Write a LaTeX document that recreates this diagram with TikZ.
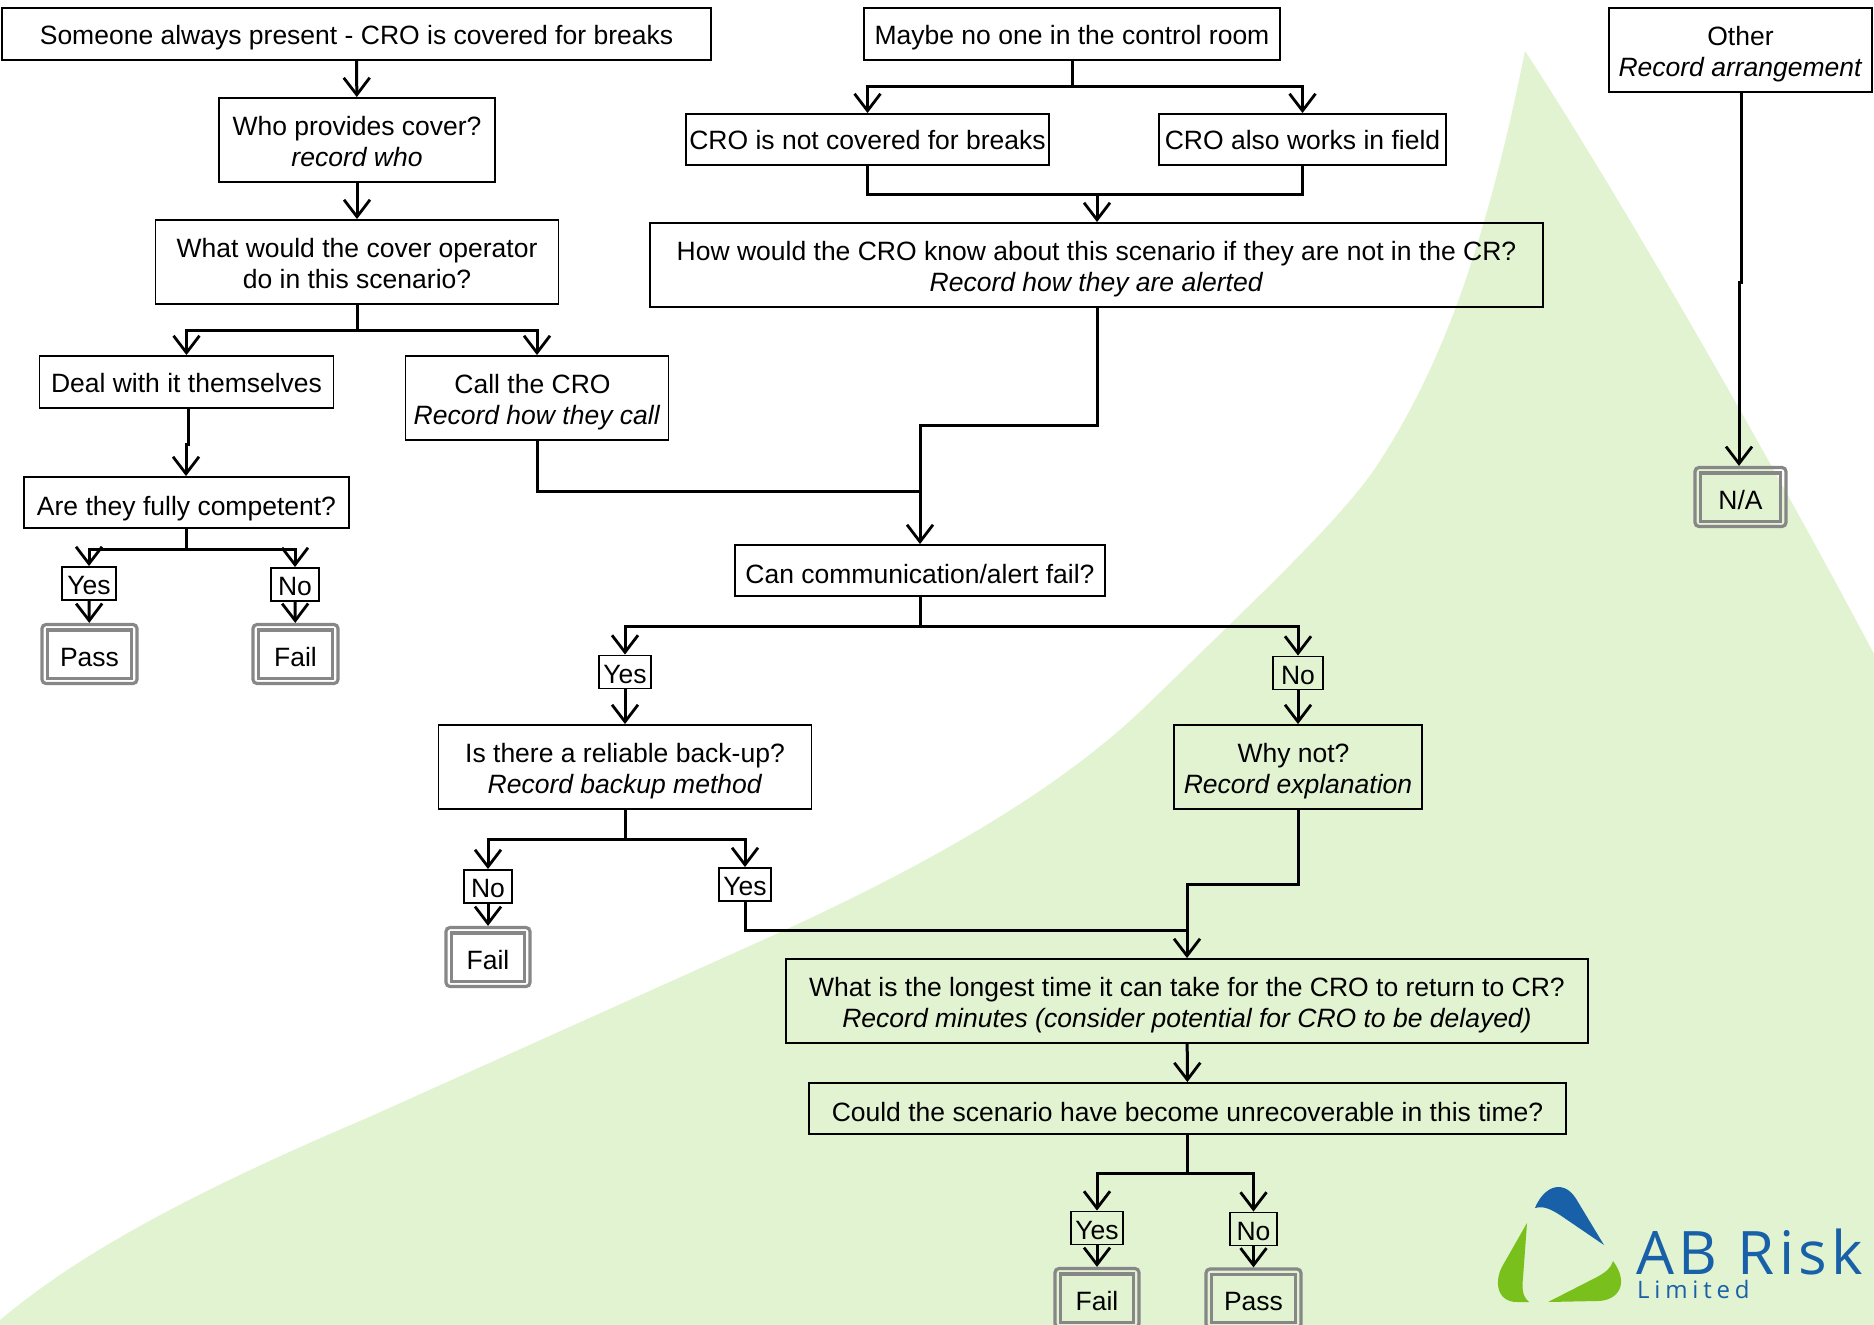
\documentclass[tikz,border=0pt]{standalone}
\usepackage{fontspec}
\setmainfont{Liberation Sans}
\newfontfamily\logofont[LetterSpace=7.5]{Open Sans}
\newfontfamily\logosmall[LetterSpace=20]{Open Sans}
\usetikzlibrary{arrows.meta}
\definecolor{bgGreen}{HTML}{E2F3D2}
\definecolor{logoGreen}{HTML}{7AC01C}
\definecolor{logoBlue}{HTML}{1860A8}
\definecolor{outcomeGray}{HTML}{878787}
\tikzset{
  qbox/.style={draw=black,line width=1.9pt,inner sep=0pt,align=center,text height=26pt,text depth=6pt,font=\fontsize{26.5}{31.5}\selectfont},
  qlow/.style={qbox,text height=31pt},
  twoline/.style={qbox,text height=59pt},
  tagbox/.style={qbox,minimum height=33pt,text height=27pt,text depth=5pt},
  outcome/.style={draw=outcomeGray,line width=3.2pt,rounded corners=4pt,inner sep=0pt,text height=30pt,text depth=6pt,font=\fontsize{26.5}{31.5}\selectfont,minimum height=59pt},
  outcomeInner/.style={draw=outcomeGray,line width=3.2pt},
  link/.style={draw=black,line width=3pt,-{Straight Barb[length=17pt,width=26pt,line width=2.8pt]}},
  plain/.style={draw=black,line width=3pt}
}
\newcommand{\outcomeBox}[4]{
  \node[outcome,minimum width=#3pt] (#1) at #2 {#4};
  \draw[outcomeInner] ([shift={(7pt,7pt)}]#1.south west) rectangle ([shift={(-7pt,-7pt)}]#1.north east);
}
\begin{document}
\begin{tikzpicture}[x=1pt,y=-1pt]
  \useasboundingbox (0,0) rectangle (1874,1325);
  \clip (0,0) rectangle (1874,1325);
  % background
  \fill[bgGreen] (0,1320) .. controls (60,1270) and (150,1210) .. (367,1118) -- (763,940)
    .. controls (900,878) and (1050,800) .. (1149,703)
    .. controls (1260,595) and (1340,520) .. (1376,467)
    .. controls (1440,370) and (1485,250) .. (1525,51)
    .. controls (1600,165) and (1750,420) .. (1874,654) -- (1874,1325) -- (0,1325) -- cycle;
  % logo
  \fill[logoBlue] (1535,1208) .. controls (1541,1193) and (1551,1187) .. (1558,1187)
    .. controls (1567,1187) and (1573,1193) .. (1578,1202) -- (1604,1245)
    -- (1560,1215) .. controls (1549,1208) and (1543,1206) .. (1535,1208) -- cycle;
  \fill[logoGreen] (1527,1223) -- (1503,1265) .. controls (1494,1280) and (1496,1302) .. (1517,1302)
    -- (1529,1302) .. controls (1522,1296) and (1522,1288) .. (1523,1278) -- cycle;
  \fill[logoGreen] (1613,1261) .. controls (1611,1268) and (1606,1272) .. (1597,1277) -- (1548,1302)
    -- (1597,1301) .. controls (1618,1301) and (1630,1284) .. (1613,1261) -- cycle;
  \node[anchor=base west,inner sep=0pt,text=logoBlue,font=\logofont\fontsize{60}{60}\selectfont] (logoName) at (1636,1274) {AB Risk};
  \node[anchor=base west,inner sep=0pt,text=logoBlue,font=\logosmall\fontsize{24}{24}\selectfont] (logoSub) at (1637,1298) {Limited};

  % left branch
  \node[qbox,minimum width=709pt,minimum height=52pt] (always) at (356.5,34) {Someone always present - CRO is covered for breaks};
  \node[twoline,minimum width=276pt,minimum height=84pt] (who) at (357,140) {Who provides cover?\\\textit{record who}};
  \node[twoline,minimum width=403pt,minimum height=84pt] (would) at (357,262) {What would the cover operator\\do in this scenario?};
  \node[qbox,minimum width=294pt,minimum height=52pt] (deal) at (186.5,382) {Deal with it themselves};
  \node[twoline,minimum width=263pt,minimum height=84pt] (call) at (537,398) {Call the CRO\hspace*{9pt}\\\textit{Record how they call}};
  \node[qlow,minimum width=325pt,minimum height=51pt] (competent) at (186.5,502.5) {Are they fully competent?};
  \node[tagbox,minimum width=54pt] (yesA) at (89,583.5) {Yes};
  \node[tagbox,minimum width=48pt] (noA) at (295,584.5) {No};
  \outcomeBox{passA}{(89.5,654)}{95}{Pass}
  \outcomeBox{failA}{(295.5,654)}{85}{Fail}

  % middle branch
  \node[qbox,minimum width=416pt,minimum height=52pt] (maybe) at (1072,34) {Maybe no one in the control room};
  \node[qbox,minimum width=363pt,minimum height=51pt] (notcovered) at (867.5,139.5) {CRO is not covered for breaks};
  \node[qbox,minimum width=287pt,minimum height=51pt] (field) at (1302.5,139.5) {CRO also works in field};
  \node[twoline,minimum width=893pt,minimum height=84pt] (know) at (1096.5,265) {How would the CRO know about this scenario if they are not in the CR?\\\textit{Record how they are alerted}};
  \node[qlow,minimum width=370pt,minimum height=51pt] (alert) at (920,570.5) {Can communication/alert fail?};
  \node[tagbox,minimum width=52pt] (yesB) at (625,672) {Yes};
  \node[tagbox,minimum width=50pt] (noB) at (1298,673) {No};
  \node[twoline,minimum width=373pt,minimum height=84pt] (backup) at (625,767) {Is there a reliable back-up?\\\textit{Record backup method}};
  \node[twoline,minimum width=248pt,minimum height=84pt] (whynot) at (1298,767) {Why not?\hspace*{9pt}\\\textit{Record explanation}};
  \node[tagbox,minimum width=48pt] (noC) at (488,886.5) {No};
  \node[tagbox,minimum width=52pt] (yesC) at (745,884.5) {Yes};
  \outcomeBox{failB}{(488,957)}{84}{Fail}
  \node[twoline,minimum width=802pt,minimum height=84pt] (longest) at (1187,1001) {What is the longest time it can take for the CRO to return to CR?\\\textit{Record minutes (consider potential for CRO to be delayed)}};
  \node[qlow,minimum width=757pt,minimum height=51pt] (recover) at (1187.5,1108.5) {Could the scenario have become unrecoverable in this time?};
  \node[tagbox,minimum width=52pt] (yesD) at (1097,1228) {Yes};
  \node[tagbox,minimum width=47pt] (noD) at (1253.5,1229) {No};
  \outcomeBox{failC}{(1097,1298)}{84}{Fail}
  \outcomeBox{passB}{(1253.5,1298.5)}{95}{Pass}

  % right branch
  \node[twoline,minimum width=263pt,minimum height=84pt] (other) at (1740.5,50) {Other\\\textit{Record arrangement}};
  \outcomeBox{na}{(1740.5,497)}{91}{N/A}

  % fork points
  \coordinate (forkWould) at (357,330);
  \coordinate (forkCompetent) at (186.5,549);
  \coordinate (forkMaybe) at (1072,86);
  \coordinate (forkRejoin) at (1097,194);
  \coordinate (stepKnow) at (1097,425.5);
  \coordinate (joinCall) at (920,491);
  \coordinate (forkAlert) at (920,626);
  \coordinate (forkBackup) at (625,839);
  \coordinate (stepWhy) at (1298,884);
  \coordinate (joinYes) at (1187,930);
  \coordinate (forkRecover) at (1187.5,1173);
  \coordinate (jogDealA) at (188,444);
  \coordinate (jogDealB) at (186,444);
  \coordinate (jogOtherA) at (1741,282);
  \coordinate (jogOtherB) at (1739,282);

  % connectors
  \draw[link] (always) -- (who);
  \draw[link] (who) -- (would);
  \draw[plain] (would) -- (forkWould);
  \draw[link] (forkWould) -| (deal);
  \draw[link] (forkWould) -| (call);
  \draw[link] (deal.south -| jogDealA) -- (jogDealA) -- (jogDealB) -- (jogDealB |- competent.north);
  \draw[plain] (competent) -- (forkCompetent);
  \draw[link] (forkCompetent) -| (yesA);
  \draw[link] (forkCompetent) -| (noA);
  \draw[link] (yesA) -- (passA);
  \draw[link] (noA) -- (failA);
  \draw[plain] (maybe) -- (forkMaybe);
  \draw[link] (forkMaybe) -| (notcovered);
  \draw[link] (forkMaybe) -| (field);
  \draw[plain] (notcovered) |- (forkRejoin);
  \draw[plain] (field) |- (forkRejoin);
  \draw[link] (forkRejoin) -- (forkRejoin |- know.north);
  \draw[plain] (know.south -| stepKnow) -- (stepKnow) -| (joinCall);
  \draw[plain] (call) |- (joinCall);
  \draw[link] (joinCall) -- (alert);
  \draw[plain] (alert) -- (forkAlert);
  \draw[link] (forkAlert) -| (yesB);
  \draw[link] (forkAlert) -| (noB);
  \draw[link] (yesB) -- (backup);
  \draw[link] (noB) -- (whynot);
  \draw[plain] (backup) -- (forkBackup);
  \draw[link] (forkBackup) -| (noC);
  \draw[link] (forkBackup) -| (yesC);
  \draw[link] (noC) -- (failB);
  \draw[plain] (yesC) |- (joinYes);
  \draw[plain] (whynot) -- (stepWhy) -| (joinYes);
  \draw[link] (joinYes) -- (longest);
  \draw[link] (longest) -- (recover);
  \draw[plain] (recover) -- (forkRecover);
  \draw[link] (forkRecover) -| (yesD);
  \draw[link] (forkRecover) -| (noD);
  \draw[link] (yesD) -- (failC);
  \draw[link] (noD) -- (passB);
  \draw[link] (other.south -| jogOtherA) -- (jogOtherA) -- (jogOtherB) -- (jogOtherB |- na.north);
\end{tikzpicture}
\end{document}
